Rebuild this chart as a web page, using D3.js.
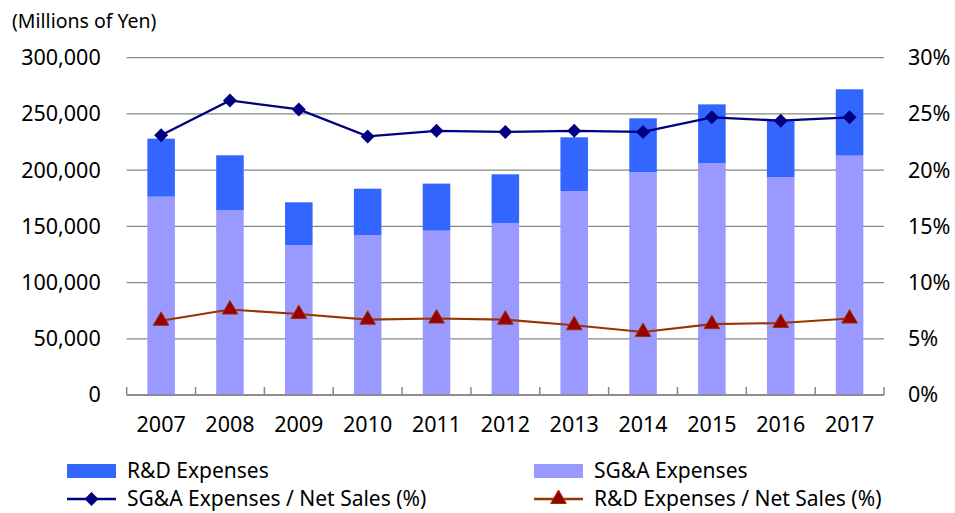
<!DOCTYPE html>
<html>
<head>
<meta charset="utf-8">
<script src="https://cdn.jsdelivr.net/npm/d3@7"></script>
<style>
  body { margin: 0; background: #fff; }
  text { font-family: "Noto Sans", sans-serif; fill: #000; }
</style>
</head>
<body>
<div id="chart"></div>
<script type="text/javascript">

      // data (millions of yen, percent)
      var years = ["2007","2008","2009","2010","2011","2012","2013","2014","2015","2016","2017"];
      var sgaExp = [176400,164500,133400,142300,146200,153000,181400,198300,206100,193900,212900];
      var rdExp = [51600,48700,38000,41200,41800,43300,47800,47800,52400,50000,59000];
      var sgaRatio = [23.1,26.2,25.4,23.0,23.5,23.4,23.5,23.4,24.7,24.4,24.7];
      var rdRatio = [6.6,7.6,7.2,6.7,6.8,6.7,6.2,5.6,6.3,6.4,6.8];
      var leftTicks = [0,50000,100000,150000,200000,250000,300000];
      var rightTicks = [0,5,10,15,20,25,30];

      var w = 955, h = 513;
      var plot = {left: 126.7, right: 884, top: 57.7, bottom: 395};

      var colors = {rd: "#3366ff", sga: "#9999ff", sgaLine: "#000080", rdLine: "#993300", rdMark: "#990000", grid: "#868686"};

      var svg = d3.select("#chart")
                  .append("svg")
                  .attr("width", w)
                  .attr("height", h);

      var x = d3.scaleBand().domain(years).range([plot.left, plot.right]).padding(0);
      var y = d3.scaleLinear().domain([0, 300000]).range([plot.bottom, plot.top]);
      var y2 = d3.scaleLinear().domain([0, 30]).range([plot.bottom, plot.top]);
      var barW = x.bandwidth() * 0.4;

      // gridlines
      svg.selectAll("line.grid")
         .data(leftTicks)
         .enter()
         .append("line")
         .attr("x1", plot.left)
         .attr("x2", plot.right)
         .attr("y1", function(d) { return y(d); })
         .attr("y2", function(d) { return y(d); })
         .attr("stroke", colors.grid)
         .attr("stroke-width", 1.3);

      // left axis labels
      var yAxis = d3.axisLeft(y).tickValues(leftTicks).tickSize(0).tickPadding(26)
                    .tickFormat(d3.format(","));
      var gy = svg.append("g").attr("transform", "translate(" + plot.left + ",0)").call(yAxis);
      gy.select(".domain").remove();
      gy.selectAll("text").style("font-size", "21.5px").style("font-family", "Noto Sans");

      // right axis labels
      var y2Axis = d3.axisRight(y2).tickValues(rightTicks).tickSize(0).tickPadding(24)
                     .tickFormat(function(d) { return d + "%"; });
      var gy2 = svg.append("g").attr("transform", "translate(" + plot.right + ",0)").call(y2Axis);
      gy2.select(".domain").remove();
      gy2.selectAll("text").style("font-size", "21.5px").style("font-family", "Noto Sans");

      // stacked bars
      var rows = years.map(function(yr, i) { return {year: yr, sga: sgaExp[i], rd: rdExp[i]}; });
      var stack = d3.stack().keys(["sga", "rd"])(rows);
      svg.selectAll("g.layer")
         .data(stack)
         .enter()
         .append("g")
         .attr("fill", function(d) { return colors[d.key]; })
         .selectAll("rect")
         .data(function(d) { return d; })
         .enter()
         .append("rect")
         .attr("x", function(d) { return x(d.data.year) + (x.bandwidth() - barW) / 2; })
         .attr("y", function(d) { return y(d[1]); })
         .attr("width", barW)
         .attr("height", function(d) { return y(d[0]) - y(d[1]); });

      // x axis
      var xAxis = d3.axisBottom(x).tickSize(0).tickPadding(22);
      var gx = svg.append("g").attr("transform", "translate(0," + plot.bottom + ")").call(xAxis);
      gx.select(".domain").remove();
      gx.selectAll("text").style("font-size", "21.5px").style("font-family", "Noto Sans");
      svg.append("line")
         .attr("x1", plot.left).attr("x2", plot.right)
         .attr("y1", plot.bottom).attr("y2", plot.bottom)
         .attr("stroke", colors.grid).attr("stroke-width", 1.5);
      var bounds = years.map(function(d) { return x(d); }).concat([plot.right]);
      svg.selectAll("line.xtick")
         .data(bounds)
         .enter()
         .append("line")
         .attr("x1", function(d) { return d; })
         .attr("x2", function(d) { return d; })
         .attr("y1", plot.bottom)
         .attr("y2", plot.bottom - 8)
         .attr("stroke", colors.grid)
         .attr("stroke-width", 1.5);

      // lines
      var cx = function(d, i) { return x(years[i]) + x.bandwidth() / 2; };
      var line = d3.line().x(cx).y(function(d) { return y2(d); });

      svg.append("path")
         .datum(sgaRatio)
         .attr("d", line)
         .attr("fill", "none")
         .attr("stroke", colors.sgaLine)
         .attr("stroke-width", 2.3);
      svg.append("path")
         .datum(rdRatio)
         .attr("d", line)
         .attr("fill", "none")
         .attr("stroke", colors.rdLine)
         .attr("stroke-width", 2.1);

      var diamond = d3.symbol().type(d3.symbolDiamond2).size(125);
      var tri = d3.symbol().type(d3.symbolTriangle).size(105);

      svg.selectAll("path.dia")
         .data(sgaRatio)
         .enter()
         .append("path")
         .attr("d", diamond)
         .attr("transform", function(d, i) { return "translate(" + cx(d, i) + "," + y2(d) + ")"; })
         .attr("fill", colors.sgaLine);
      svg.selectAll("path.tri")
         .data(rdRatio)
         .enter()
         .append("path")
         .attr("d", tri)
         .attr("transform", function(d, i) { return "translate(" + cx(d, i) + "," + y2(d) + ")"; })
         .attr("fill", colors.rdMark)
         .attr("stroke", colors.rdLine)
         .attr("stroke-width", 1);

      // unit label
      svg.append("text")
         .attr("x", 12)
         .attr("y", 28)
         .style("font-size", "19.5px")
         .text("(Millions of Yen)");

      // legend
      var legend = [
        {label: "R&D Expenses", type: "bar", color: colors.rd, x: 67, y: 471},
        {label: "SG&A Expenses", type: "bar", color: colors.sga, x: 534, y: 471},
        {label: "SG&A Expenses / Net Sales (%)", type: "dia", color: colors.sgaLine, x: 67, y: 499},
        {label: "R&D Expenses / Net Sales (%)", type: "tri", color: colors.rdLine, x: 534, y: 499}
      ];
      var lg = svg.selectAll("g.legend")
         .data(legend)
         .enter()
         .append("g")
         .attr("transform", function(d) { return "translate(" + d.x + "," + d.y + ")"; });
      lg.filter(function(d) { return d.type == "bar"; })
        .append("rect")
        .attr("x", 0).attr("y", -7).attr("width", 49).attr("height", 14)
        .attr("fill", function(d) { return d.color; });
      lg.filter(function(d) { return d.type != "bar"; })
        .append("line")
        .attr("x1", 0).attr("x2", 49).attr("y1", 0).attr("y2", 0)
        .attr("stroke", function(d) { return d.color; })
        .attr("stroke-width", 2.3);
      lg.filter(function(d) { return d.type == "dia"; })
        .append("path")
        .attr("d", diamond)
        .attr("transform", "translate(24.5,0)")
        .attr("fill", colors.sgaLine);
      lg.filter(function(d) { return d.type == "tri"; })
        .append("path")
        .attr("d", tri)
        .attr("transform", "translate(24.5,0)")
        .attr("fill", colors.rdMark)
        .attr("stroke", colors.rdLine);
      lg.append("text")
        .attr("x", 60)
        .attr("y", 0)
        .attr("dy", "0.35em")
        .style("font-size", "21px")
        .text(function(d) { return d.label; });

            </script>
</body>
</html>
